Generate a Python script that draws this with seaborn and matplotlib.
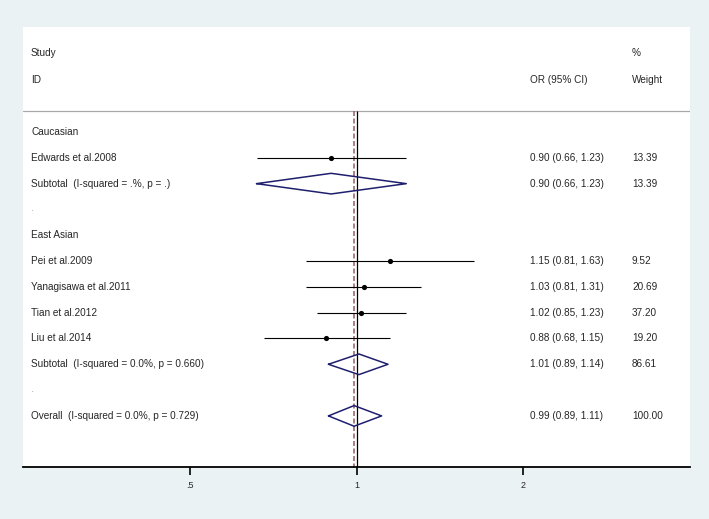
"""Forest plot: OR (95% CI) by ethnicity subgroup, Stata-style layout."""

import matplotlib.pyplot as plt
from matplotlib.transforms import blended_transform_factory
import numpy as np
import pandas as pd
import seaborn as sns

sns.set_theme(style="white")
plt.rcParams["font.family"] = ["Liberation Sans", "DejaVu Sans"]

# ---- data ----
row_labels = [
    "Caucasian", "Edwards et al.2008", "Subtotal  (I-squared = .%, p = .)", ".",
    "East Asian", "Pei et al.2009", "Yanagisawa et al.2011", "Tian et al.2012",
    "Liu et al.2014", "Subtotal  (I-squared = 0.0%, p = 0.660)", ".",
    "Overall  (I-squared = 0.0%, p = 0.729)",
]
row_kind = [
    "header", "study", "pooled", "blank",
    "header", "study", "study", "study",
    "study", "pooled", "blank",
    "pooled",
]
or_est = [np.nan, 0.90, 0.90, np.nan, np.nan, 1.15, 1.03, 1.02, 0.88, 1.01, np.nan, 0.99]
ci_low = [np.nan, 0.66, 0.66, np.nan, np.nan, 0.81, 0.81, 0.85, 0.68, 0.89, np.nan, 0.89]
ci_high = [np.nan, 1.23, 1.23, np.nan, np.nan, 1.63, 1.31, 1.23, 1.15, 1.14, np.nan, 1.11]
weights = ["", "13.39", "13.39", "", "", "9.52", "20.69", "37.20", "19.20", "86.61", "", "100.00"]

tick_vals = [0.5, 1, 2]
tick_labels = [".5", "1", "2"]

df = pd.DataFrame({
    "label": row_labels, "kind": row_kind, "est": or_est,
    "lo": ci_low, "hi": ci_high, "weight": weights,
})
df["row"] = np.arange(len(df))

BG = "#EAF2F3"
TXT = "#262626"
NAVY = "#1f1f6e"
FS = 7.2

fig = plt.figure(figsize=(7.09, 5.19), dpi=100, facecolor=BG)
ax = fig.add_axes([23 / 709, 1 - 467 / 519, 667 / 709, 440 / 519])
ax.set_facecolor("white")

ax.set_xscale("log")
ax.set_xlim(0.25, 4)
ax.set_ylim(12.98, -4.07)

trans = blended_transform_factory(ax.transAxes, ax.transData)

# header
ax.text(0.012, -3.06, "Study", transform=trans, fontsize=FS, color=TXT, va="center")
ax.text(0.012, -2.02, "ID", transform=trans, fontsize=FS, color=TXT, va="center")
ax.text(0.760, -2.02, "OR (95% CI)", transform=trans, fontsize=FS, color=TXT, va="center")
ax.text(0.913, -3.06, "%", transform=trans, fontsize=FS, color=TXT, va="center")
ax.text(0.913, -2.02, "Weight", transform=trans, fontsize=FS, color=TXT, va="center")
ax.axhline(-0.81, color="#a8a8a8", linewidth=0.9)

# reference lines
overall = df.loc[df["label"].str.startswith("Overall"), "est"].iloc[0]
ax.vlines(1, -0.81, 12.98, color="black", linewidth=0.9, zorder=2)
ax.vlines(overall, -0.81, 12.98, color="#9c6b6b", linewidth=1.2,
          linestyles=(0, (3, 1.5)), zorder=2)

# study rows
studies = df[df["kind"] == "study"]
ax.hlines(studies["row"], studies["lo"], studies["hi"], color="black", linewidth=0.8, zorder=3)
sns.scatterplot(data=studies, x="est", y="row", marker="o", s=14, color="black",
                edgecolor="black", linewidth=0, ax=ax, zorder=4, legend=False)

# pooled diamonds
half_h = 0.40
for _, r in df[df["kind"] == "pooled"].iterrows():
    xs = [r["lo"], r["est"], r["hi"], r["est"], r["lo"]]
    ys = [r["row"], r["row"] - half_h, r["row"], r["row"] + half_h, r["row"]]
    ax.plot(xs, ys, color=NAVY, linewidth=1.1, zorder=4)

# text columns
for _, r in df.iterrows():
    fs = 4 if r["kind"] == "blank" else FS
    ax.text(0.012, r["row"], r["label"], transform=trans, fontsize=fs, color=TXT, va="center")
    if not np.isnan(r["est"]):
        ax.text(0.760, r["row"], f"{r['est']:.2f} ({r['lo']:.2f}, {r['hi']:.2f})",
                transform=trans, fontsize=FS, color=TXT, va="center")
        ax.text(0.913, r["row"], r["weight"], transform=trans, fontsize=FS, color=TXT, va="center")

# axes styling
for side in ["top", "left", "right"]:
    ax.spines[side].set_visible(False)
ax.spines["bottom"].set_color("black")
ax.spines["bottom"].set_linewidth(1.3)
ax.set_xticks(tick_vals)
ax.set_xticklabels(tick_labels, fontsize=6.5, color=TXT)
ax.minorticks_off()
ax.tick_params(axis="x", which="major", bottom=True, length=6, width=1.2,
               color="black", direction="out", pad=4)
ax.set_yticks([])
ax.set_xlabel("")
ax.set_ylabel("")
ax.grid(False)

fig.savefig("out.png", dpi=100, facecolor=BG)
